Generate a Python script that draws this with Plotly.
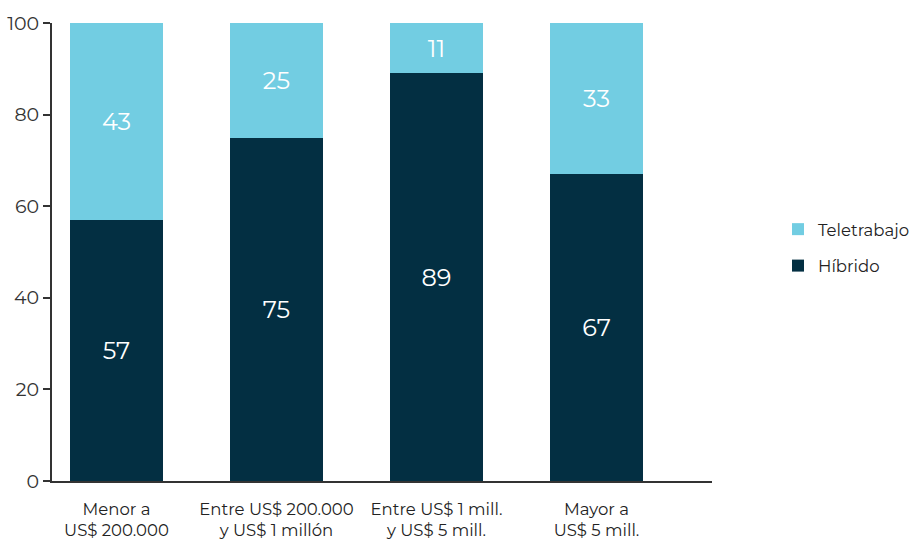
import plotly.graph_objects as go

categories = ["Menor a<br>US$ 200.000", "Entre US$ 200.000<br>y US$ 1 millón",
              "Entre US$ 1 mill.<br>y US$ 5 mill.", "Mayor a<br>US$ 5 mill."]
hibrido = [57, 75, 89, 67]
teletrabajo = [43, 25, 11, 33]
y_ticks = [0, 20, 40, 60, 80, 100]

FONT = "Montserrat, 'Open Sans', 'Noto Sans', sans-serif"
DARK = "#032F42"
LIGHT = "#72CDE2"

fig = go.Figure()
fig.add_trace(go.Bar(x=categories, y=hibrido, name="Híbrido", marker_color=DARK,
                     legendgroup="h", legendrank=2,
                     marker_line_width=0, text=hibrido, textposition="inside",
                     insidetextanchor="middle", textangle=0,
                     textfont=dict(color="white", size=24, family=FONT)))
fig.add_trace(go.Bar(x=categories, y=teletrabajo, name="Teletrabajo", marker_color=LIGHT,
                     legendgroup="t", legendrank=1,
                     marker_line_width=0, text=teletrabajo, textposition="inside",
                     insidetextanchor="middle", textangle=0,
                     textfont=dict(color="white", size=24, family=FONT)))

fig.update_layout(
    barmode="stack",
    bargap=0.42,
    width=915, height=542,
    margin=dict(l=52, r=203, t=23, b=61, autoexpand=False),
    plot_bgcolor="white", paper_bgcolor="white",
    font=dict(family=FONT, color="#222", size=16),
    showlegend=True,
    legend=dict(x=1.10, y=0.51, xanchor="left", yanchor="middle",
                font=dict(size=16.5, color="#222"), itemsizing="constant",
                tracegroupgap=12, traceorder="grouped"),
    uniformtext=dict(minsize=10, mode="show"),
)
fig.update_xaxes(range=[-0.403, 3.722], showline=True, linecolor="#333", linewidth=2,
                 ticks="", showgrid=False, ticklabelstandoff=12, tickangle=0,
                 tickfont=dict(size=16.5, color="#222"))
fig.update_yaxes(range=[0, 100], tickvals=y_ticks, showline=True, linecolor="#333",
                 linewidth=2, ticks="outside", ticklen=7, tickwidth=1.5, tickcolor="#333",
                 showgrid=False, zeroline=False, tickfont=dict(size=19, color="#333"))

fig.write_html("out.html")
